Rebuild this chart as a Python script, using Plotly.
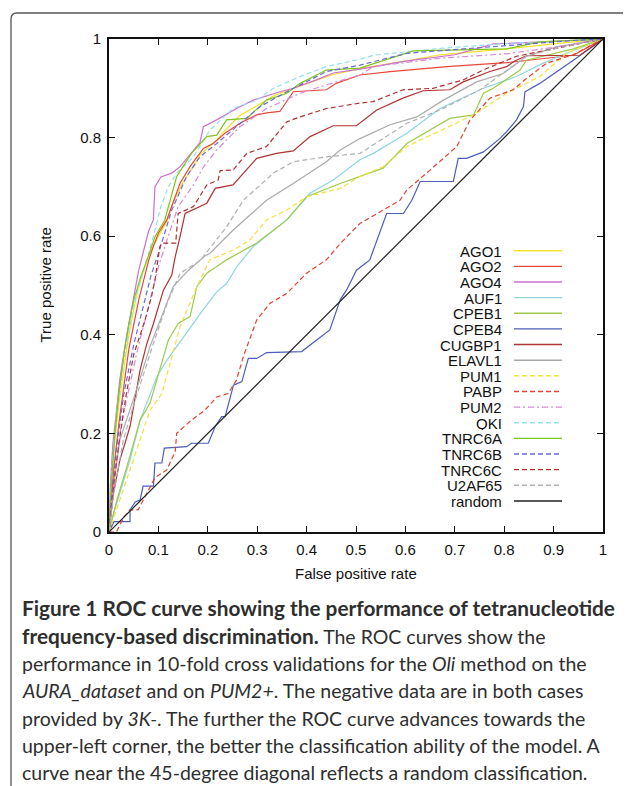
import plotly.graph_objects as go

# ---------------- data ----------------
SERIES = ["AGO1", "AGO2", "AGO4", "AUF1", "CPEB1", "CPEB4", "CUGBP1", "ELAVL1",
          "PUM1", "PABP", "PUM2", "QKI", "TNRC6A", "TNRC6B", "TNRC6C", "U2AF65", "random"]

AGO1_FPR = [0, 0.005, 0.01, 0.02, 0.03, 0.04, 0.05, 0.06, 0.07, 0.08, 0.09, 0.1, 0.117, 0.13, 0.15, 0.17, 0.184,
            0.2, 0.218, 0.24, 0.265, 0.3, 0.333, 0.387, 0.454, 0.508, 0.6, 0.67, 0.75, 0.805, 0.9, 0.95, 1]
AGO1_TPR = [0, 0.1, 0.17, 0.26, 0.33, 0.4, 0.45, 0.5, 0.53, 0.56, 0.58, 0.6, 0.63, 0.67, 0.71, 0.74, 0.765,
            0.78, 0.795, 0.82, 0.845, 0.865, 0.885, 0.905, 0.928, 0.94, 0.955, 0.968, 0.975, 0.98, 0.99, 0.995, 1]

AGO2_FPR = [0, 0.005, 0.01, 0.02, 0.03, 0.04, 0.05, 0.06, 0.07, 0.08, 0.09, 0.1, 0.117, 0.123, 0.144, 0.164,
            0.191, 0.211, 0.235, 0.265, 0.299, 0.319, 0.346, 0.373, 0.44, 0.46, 0.508, 0.569, 0.684, 0.805, 0.94, 1]
AGO2_TPR = [0, 0.07, 0.13, 0.22, 0.3, 0.37, 0.42, 0.47, 0.51, 0.55, 0.58, 0.606, 0.633, 0.65, 0.708, 0.741,
            0.778, 0.788, 0.809, 0.829, 0.846, 0.85, 0.853, 0.893, 0.897, 0.91, 0.927, 0.934, 0.944, 0.952, 0.967, 1]

AGO4_FPR = [0, 0.003, 0.008, 0.015, 0.022, 0.036, 0.05, 0.06, 0.07, 0.08, 0.0897, 0.093, 0.105, 0.127, 0.144,
            0.16, 0.184, 0.191, 0.218, 0.258, 0.292, 0.346, 0.373, 0.42, 0.454, 0.508, 0.6, 0.7, 0.778, 0.9, 1]
AGO4_TPR = [0, 0.1, 0.18, 0.25, 0.31, 0.40, 0.48, 0.53, 0.57, 0.61, 0.633, 0.70, 0.72, 0.728, 0.741,
            0.76, 0.79, 0.822, 0.836, 0.859, 0.876, 0.893, 0.9, 0.917, 0.931, 0.939, 0.955, 0.968, 0.99, 0.995, 1]

AUF1_FPR = [0, 0.01, 0.022, 0.0425, 0.063, 0.08, 0.097, 0.115, 0.137, 0.16, 0.19, 0.218, 0.238, 0.26, 0.292,
            0.36, 0.407, 0.454, 0.508, 0.535, 0.603, 0.67, 0.758, 0.825, 0.879, 0.926, 0.96, 1]
AUF1_TPR = [0, 0.04, 0.079, 0.146, 0.227, 0.27, 0.315, 0.345, 0.376, 0.41, 0.45, 0.487, 0.504, 0.54, 0.579,
            0.633, 0.687, 0.714, 0.755, 0.768, 0.809, 0.859, 0.9, 0.924, 0.951, 0.971, 0.985, 1]

CPEB1_FPR = [0, 0.016, 0.036, 0.063, 0.083, 0.103, 0.12, 0.14, 0.164, 0.178, 0.198, 0.238, 0.299, 0.36, 0.4,
             0.468, 0.508, 0.555, 0.603, 0.69, 0.738, 0.758, 0.778, 0.832, 0.845, 0.886, 0.94, 1]
CPEB1_TPR = [0, 0.065, 0.132, 0.227, 0.261, 0.329, 0.389, 0.423, 0.437, 0.498, 0.525, 0.552, 0.586, 0.633, 0.68,
             0.707, 0.721, 0.738, 0.788, 0.839, 0.846, 0.89, 0.9, 0.937, 0.957, 0.967, 0.98, 1]

CPEB4_FPR = [0, 0.01, 0.0425, 0.0425, 0.053, 0.063, 0.069, 0.09, 0.093, 0.107, 0.112, 0.157, 0.167, 0.201,
             0.215, 0.228, 0.235, 0.252, 0.269, 0.282, 0.299, 0.319, 0.39, 0.447, 0.468, 0.481, 0.501, 0.528,
             0.562, 0.596, 0.613, 0.63, 0.697, 0.707, 0.724, 0.758, 0.791, 0.805, 0.825, 0.839, 0.842, 0.872,
             0.94, 1]
CPEB4_TPR = [0, 0.021, 0.021, 0.045, 0.061, 0.065, 0.093, 0.093, 0.14, 0.14, 0.17, 0.173, 0.18, 0.18,
             0.214, 0.234, 0.234, 0.298, 0.305, 0.352, 0.352, 0.364, 0.366, 0.41, 0.471, 0.491, 0.531, 0.552,
             0.646, 0.646, 0.673, 0.711, 0.711, 0.758, 0.758, 0.771, 0.798, 0.812, 0.836, 0.863, 0.893, 0.91,
             0.957, 1]

CUGBP1_FPR = [0, 0.009, 0.022, 0.0425, 0.063, 0.076, 0.09, 0.11, 0.127, 0.134, 0.144, 0.154, 0.198, 0.215,
              0.251, 0.299, 0.339, 0.373, 0.407, 0.454, 0.501, 0.542, 0.595, 0.636, 0.69, 0.717, 0.771, 0.805,
              0.82, 0.845, 0.953, 1]
CUGBP1_TPR = [0, 0.078, 0.146, 0.214, 0.329, 0.38, 0.423, 0.49, 0.521, 0.558, 0.6, 0.646, 0.667, 0.697,
              0.704, 0.758, 0.768, 0.773, 0.802, 0.824, 0.824, 0.856, 0.88, 0.895, 0.897, 0.913, 0.934, 0.944,
              0.955, 0.966, 0.967, 1]

ELAVL1_FPR = [0, 0.01, 0.022, 0.049, 0.083, 0.13, 0.16, 0.194, 0.204, 0.252, 0.319, 0.373, 0.44, 0.468, 0.508,
              0.569, 0.623, 0.677, 0.744, 0.798, 0.845, 0.906, 1]
ELAVL1_TPR = [0, 0.1, 0.187, 0.268, 0.376, 0.498, 0.53, 0.56, 0.565, 0.613, 0.673, 0.707, 0.751, 0.775, 0.798,
              0.826, 0.842, 0.876, 0.913, 0.93, 0.965, 0.984, 1]

PUM1_FPR = [0, 0.022, 0.049, 0.083, 0.107, 0.125, 0.144, 0.178, 0.204, 0.252, 0.285, 0.319, 0.36, 0.4, 0.468,
            0.508, 0.555, 0.603, 0.738, 0.805, 0.872, 0.926, 1]
PUM1_TPR = [0, 0.065, 0.146, 0.247, 0.281, 0.35, 0.417, 0.498, 0.552, 0.572, 0.592, 0.633, 0.653, 0.68, 0.697,
            0.721, 0.741, 0.782, 0.846, 0.89, 0.924, 0.971, 1]

PABP_FPR = [0, 0.015, 0.03, 0.0425, 0.059, 0.083, 0.093, 0.117, 0.134, 0.137, 0.167, 0.194, 0.218, 0.241, 0.258,
            0.272, 0.299, 0.326, 0.36, 0.4, 0.44, 0.468, 0.508, 0.555, 0.589, 0.603, 0.65, 0.704, 0.731, 0.744,
            0.771, 0.818, 0.845, 0.886, 0.94, 1]
PABP_TPR = [0, 0.0, 0.03, 0.045, 0.045, 0.092, 0.11, 0.126, 0.163, 0.2, 0.227, 0.247, 0.274, 0.281, 0.308,
            0.356, 0.43, 0.464, 0.484, 0.525, 0.552, 0.585, 0.626, 0.653, 0.673, 0.694, 0.734, 0.782, 0.836, 0.85,
            0.88, 0.897, 0.92, 0.951, 0.968, 1]

PUM2_FPR = [0, 0.01, 0.025, 0.056, 0.083, 0.1, 0.12, 0.14, 0.171, 0.191, 0.218, 0.265, 0.319, 0.387, 0.44,
            0.508, 0.535, 0.67, 0.805, 0.906, 1]
PUM2_TPR = [0, 0.1, 0.22, 0.362, 0.47, 0.538, 0.6, 0.66, 0.704, 0.74, 0.775, 0.822, 0.859, 0.89, 0.907,
            0.927, 0.944, 0.961, 0.97, 0.984, 1]

QKI_FPR = [0, 0.005, 0.015, 0.03, 0.05, 0.07, 0.09, 0.105, 0.12, 0.137, 0.171, 0.204, 0.251, 0.299, 0.333,
           0.387, 0.44, 0.508, 0.535, 0.67, 0.805, 1]
QKI_TPR = [0, 0.12, 0.24, 0.35, 0.46, 0.53, 0.6, 0.66, 0.70, 0.728, 0.761, 0.815, 0.859, 0.876, 0.9,
           0.924, 0.944, 0.959, 0.967, 0.981, 0.991, 1]

TNRC6A_FPR = [0, 0.005, 0.012, 0.02, 0.03, 0.04, 0.05, 0.065, 0.08, 0.093, 0.113, 0.137, 0.167, 0.191, 0.198,
              0.218, 0.238, 0.279, 0.319, 0.36, 0.387, 0.44, 0.508, 0.616, 0.805, 0.872, 1]
TNRC6A_TPR = [0, 0.1, 0.2, 0.28, 0.36, 0.42, 0.47, 0.52, 0.56, 0.599, 0.633, 0.721, 0.768, 0.795, 0.802,
              0.805, 0.836, 0.839, 0.876, 0.89, 0.91, 0.937, 0.941, 0.976, 0.98, 0.994, 1]

TNRC6B_FPR = [0, 0.005, 0.015, 0.03, 0.05, 0.06, 0.07, 0.085, 0.1, 0.127, 0.157, 0.184, 0.218, 0.265, 0.306,
              0.36, 0.4, 0.44, 0.508, 0.603, 0.771, 0.94, 1]
TNRC6B_TPR = [0, 0.07, 0.17, 0.28, 0.38, 0.42, 0.46, 0.52, 0.565, 0.653, 0.721, 0.761, 0.788, 0.829, 0.863,
              0.893, 0.913, 0.934, 0.947, 0.971, 0.984, 0.997, 1]

TNRC6C_FPR = [0, 0.01, 0.02, 0.035, 0.05, 0.073, 0.086, 0.093, 0.103, 0.107, 0.135, 0.14, 0.171, 0.198, 0.221,
              0.225, 0.251, 0.279, 0.319, 0.36, 0.387, 0.44, 0.508, 0.535, 0.595, 0.656, 0.717, 0.757, 0.825, 1]
TNRC6C_TPR = [0, 0.1, 0.18, 0.28, 0.36, 0.43, 0.477, 0.511, 0.579, 0.586, 0.586, 0.646, 0.66, 0.704, 0.714,
              0.733, 0.734, 0.768, 0.782, 0.832, 0.842, 0.859, 0.87, 0.873, 0.897, 0.9, 0.917, 0.937, 0.965, 1]

U2AF65_FPR = [0, 0.01, 0.029, 0.049, 0.09, 0.12, 0.144, 0.184, 0.238, 0.272, 0.333, 0.373, 0.44, 0.508, 0.603,
              0.67, 0.751, 0.845, 0.9, 1]
U2AF65_TPR = [0, 0.08, 0.187, 0.255, 0.383, 0.47, 0.525, 0.55, 0.619, 0.673, 0.728, 0.751, 0.761, 0.768, 0.829,
              0.856, 0.897, 0.965, 0.98, 1]

RANDOM_FPR = [0, 1]
RANDOM_TPR = [0, 1]

TICKS = [0, 0.1, 0.2, 0.3, 0.4, 0.5, 0.6, 0.7, 0.8, 0.9, 1]
TICK_LABELS = ["0", "0.1", "0.2", "0.3", "0.4", "0.5", "0.6", "0.7", "0.8", "0.9", "1"]
YTICKS = [0, 0.2, 0.4, 0.6, 0.8, 1]
YTICK_LABELS = ["0", "0.2", "0.4", "0.6", "0.8", "1"]

BIG = '<span style="font-size:20.8px">'
CAPTION = [
    BIG + "<b>Figure 1 ROC curve showing the performance of tetranucleotide</b></span>",
    BIG + "<b>frequency-based discrimination.</b></span> The ROC curves show the",
    "performance in 10-fold cross validations for the <i>Oli</i> method on the",
    "<i>AURA_dataset</i> and on <i>PUM2+</i>. The negative data are in both cases",
    "provided by <i>3K-</i>. The further the ROC curve advances towards the",
    "upper-left corner, the better the classification ability of the model. A",
    "curve near the 45-degree diagonal reflects a random classification.",
]

# ---------------- styles ----------------
DATA = {
    "AGO1": (AGO1_FPR, AGO1_TPR), "AGO2": (AGO2_FPR, AGO2_TPR), "AGO4": (AGO4_FPR, AGO4_TPR),
    "AUF1": (AUF1_FPR, AUF1_TPR), "CPEB1": (CPEB1_FPR, CPEB1_TPR), "CPEB4": (CPEB4_FPR, CPEB4_TPR),
    "CUGBP1": (CUGBP1_FPR, CUGBP1_TPR), "ELAVL1": (ELAVL1_FPR, ELAVL1_TPR), "PUM1": (PUM1_FPR, PUM1_TPR),
    "PABP": (PABP_FPR, PABP_TPR), "PUM2": (PUM2_FPR, PUM2_TPR), "QKI": (QKI_FPR, QKI_TPR),
    "TNRC6A": (TNRC6A_FPR, TNRC6A_TPR), "TNRC6B": (TNRC6B_FPR, TNRC6B_TPR),
    "TNRC6C": (TNRC6C_FPR, TNRC6C_TPR), "U2AF65": (U2AF65_FPR, U2AF65_TPR),
    "random": (RANDOM_FPR, RANDOM_TPR),
}
DASHED = "5px,3px"
STYLE = {
    "AGO1": ("#f2e22a", "solid"), "AGO2": ("#e8473a", "solid"), "AGO4": ("#cf6fcf", "solid"),
    "AUF1": ("#8fd6e0", "solid"), "CPEB1": ("#9ccc4a", "solid"), "CPEB4": ("#4d5bbd", "solid"),
    "CUGBP1": ("#b03232", "solid"), "ELAVL1": ("#aaaaaa", "solid"), "PUM1": ("#f2e03c", DASHED),
    "PABP": ("#e6422e", DASHED), "PUM2": ("#d888d8", "6px,3px,2px,3px"), "QKI": ("#92e0f0", DASHED),
    "TNRC6A": ("#80c41c", "solid"), "TNRC6B": ("#6a6ad0", DASHED), "TNRC6C": ("#b03030", DASHED),
    "U2AF65": ("#b0b0b0", DASHED), "random": ("#222222", "solid"),
}

FONT = "Liberation Sans, Arial, sans-serif"
OFF = 8                      # page body margin added by the browser
PAGE_W, PAGE_H = 631, 786
L, R, T, B = 109, 603, 39, 532   # plot area in page pixels

def px(xp):
    return (xp - L) / (R - L)

def py(yp):
    return (B - yp) / (B - T)

fig = go.Figure()
for name in SERIES:
    xs, ys = DATA[name]
    col, dash = STYLE[name]
    fig.add_trace(go.Scatter(x=xs, y=ys, mode="lines", name=name, showlegend=False,
                             line=dict(color=col, width=1.2, dash=dash)))

shapes = []
annotations = []
# gnuplot-style key: text right-aligned, line sample on the right
for i, name in enumerate(SERIES):
    col, dash = STYLE[name]
    yrow = py(250.7 + i * 15.64)
    annotations.append(dict(xref="paper", yref="paper", x=px(504), y=yrow, text=name, showarrow=False,
                            xanchor="right", yanchor="middle", height=14, valign="middle",
                            font=dict(family=FONT, size=15, color="#111")))
    shapes.append(dict(type="line", xref="paper", yref="paper", x0=px(514), x1=px(562), y0=yrow, y1=yrow,
                       line=dict(color=col, width=1.4, dash=dash)))

# outer rounded frame of the figure panel
rx, ry = 6 / (R - L), 6 / (B - T)
fx, fy = px(11), py(13)
shapes.append(dict(type="path", xref="paper", yref="paper",
                   path=f"M {fx},{py(800)} L {fx},{fy - ry} Q {fx},{fy} {fx + rx},{fy} L {px(640)},{fy}",
                   line=dict(color="#555555", width=1.3)))

# axis titles
annotations.append(dict(xref="paper", yref="paper", x=0.5, y=py(573), text="False positive rate",
                        showarrow=False, xanchor="center", yanchor="middle",
                        font=dict(family=FONT, size=15, color="#111")))
annotations.append(dict(xref="paper", yref="paper", x=px(45), y=0.5, text="True positive rate",
                        showarrow=False, textangle=-90, xanchor="center", yanchor="middle",
                        font=dict(family=FONT, size=15, color="#111")))

# caption
CAP_Y = [607, 635.5, 663, 690.5, 718, 745.5, 772]
for line, yp in zip(CAPTION, CAP_Y):
    annotations.append(dict(xref="paper", yref="paper", x=px(20), y=py(yp), text=line, showarrow=False,
                            xanchor="left", yanchor="middle", align="left",
                            font=dict(family="Lato, sans-serif", size=19.5, color="#2e2e2e")))

axis_common = dict(range=[0, 1], showgrid=False, zeroline=False, showline=True, linecolor="#111",
                   linewidth=2, mirror="ticks", ticks="inside", ticklen=6, tickwidth=1.3, tickcolor="#111",
                   ticklabelstandoff=3,
                   tickfont=dict(family=FONT, size=15, color="#111"), fixedrange=True)

fig.update_layout(
    width=PAGE_W - OFF, height=PAGE_H - OFF,
    margin=dict(l=L - OFF, r=PAGE_W - R, t=T - OFF, b=PAGE_H - B, pad=0),
    paper_bgcolor="white", plot_bgcolor="white",
    xaxis=dict(tickvals=TICKS, ticktext=TICK_LABELS, **axis_common),
    yaxis=dict(tickvals=YTICKS, ticktext=YTICK_LABELS, **axis_common),
    shapes=shapes, annotations=annotations, showlegend=False,
)
fig.write_html("out.html")
